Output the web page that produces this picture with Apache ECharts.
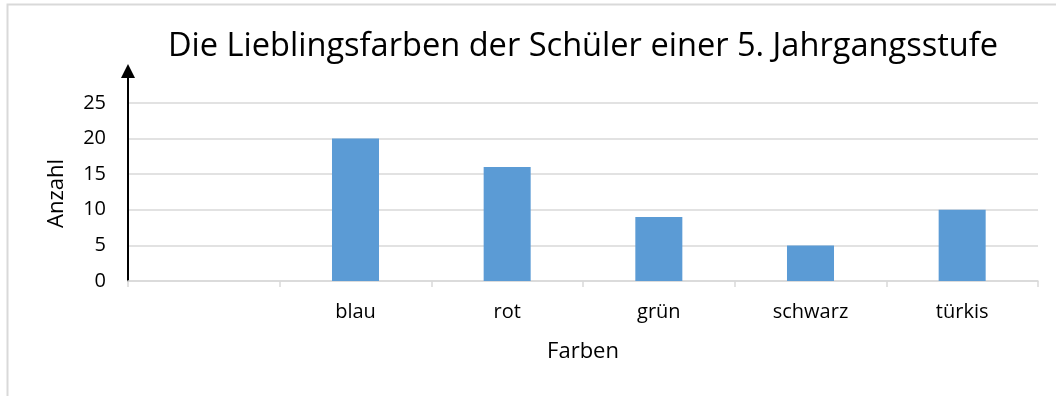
<!DOCTYPE html>
<html>
<head>
<meta charset="utf-8">
<script src="https://cdn.jsdelivr.net/npm/echarts@6/dist/echarts.min.js"></script>
<style>
  html, body { margin: 0; padding: 0; background: #ffffff; }
  #chart { width: 1056px; height: 396px; }
</style>
</head>
<body>
<div id="chart"></div>
<script>
// Favourite colours of pupils in a 5th-grade year
const chartTitle = 'Die Lieblingsfarben der Schüler einer 5. Jahrgangsstufe';
const categories = ['', 'blau', 'rot', 'grün', 'schwarz', 'türkis'];
const counts = [null, 20, 16, 9, 5, 10];
const yAxisName = 'Anzahl';
const xAxisName = 'Farben';

const FONT = '"Open Sans", sans-serif';
const chart = echarts.init(document.getElementById('chart'), null, { renderer: 'canvas' });

chart.setOption({
  animation: false,
  backgroundColor: '#ffffff',
  title: {
    text: chartTitle,
    left: 578,
    textAlign: 'center',
    top: 25,
    textStyle: { fontFamily: FONT, fontSize: 32.6, fontWeight: 'normal', color: '#000000' }
  },
  graphic: [{
    type: 'rect',
    shape: { x: 7.5, y: 4.5, width: 1200, height: 600 },
    style: { fill: 'none', stroke: '#d9d9d9', lineWidth: 2 },
    silent: true
  }],
  // the value axis runs a little past 25 so its arrow head sits above the last grid line
  grid: { left: 128, right: 18, top: 68, bottom: 115, containLabel: false },
  xAxis: {
    type: 'category',
    data: categories,
    boundaryGap: true,
    name: xAxisName,
    nameLocation: 'middle',
    nameGap: 60,
    nameTextStyle: { fontFamily: FONT, fontSize: 22, color: '#000000' },
    axisLine: { show: true, lineStyle: { color: '#d9d9d9', width: 1.5 } },
    axisTick: { show: true, alignWithLabel: false, length: 6, lineStyle: { color: '#d9d9d9', width: 1.5 } },
    axisLabel: { fontFamily: FONT, fontSize: 20, color: '#000000', margin: 21, interval: 0 },
    splitLine: { show: false }
  },
  yAxis: {
    type: 'value',
    min: 0,
    max: 29.9,
    interval: 5,
    name: yAxisName,
    nameLocation: 'middle',
    nameGap: 60,
    nameRotate: 90,
    // keep the axis name centred on the 0..25 range
    nameTextStyle: { fontFamily: FONT, fontSize: 22, color: '#000000', padding: [0, 38, 0, 0] },
    axisLine: {
      show: true,
      symbol: ['none', 'path://M5,0 L10,10 L0,10 Z'],
      symbolSize: [14, 15],
      symbolOffset: [0, -3],
      lineStyle: { color: '#000000', width: 2 }
    },
    axisTick: { show: false },
    axisLabel: { fontFamily: FONT, fontSize: 20, color: '#000000', margin: 22, showMaxLabel: false },
    splitLine: { show: true, showMaxLine: false, lineStyle: { color: '#d9d9d9', width: 1.5 } }
  },
  series: [{
    type: 'bar',
    data: counts,
    barWidth: '31%',
    itemStyle: { color: '#5b9bd5' }
  }]
});
</script>
</body>
</html>
